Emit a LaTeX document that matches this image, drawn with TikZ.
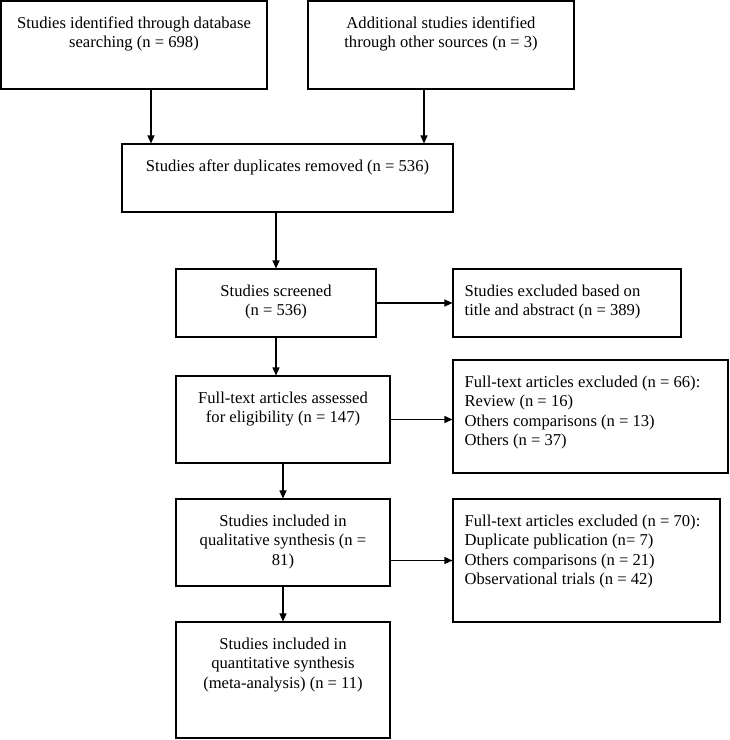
\documentclass[tikz,border=0pt]{standalone}
\usepackage{fontspec}
\setmainfont{Liberation Serif}
\usetikzlibrary{arrows.meta}
\begin{document}
\begin{tikzpicture}[x=1pt,y=-1pt,
  box/.style={draw=black, line width=1.1pt, inner sep=0pt, fill=white},
  ctext/.style={anchor=base, inner sep=0pt, font=\fontsize{16.6}{19.5}\selectfont},
  ltext/.style={anchor=base west, inner sep=0pt, font=\fontsize{16.6}{19.5}\selectfont},
  arr/.style={line width=1.1pt, -{Triangle[length=8pt,width=7pt]}}]
\useasboundingbox (0,0) rectangle (730,740);
% boxes
\node[box, minimum width=266pt, minimum height=88pt]  (b1)  at (134,45) {};
\node[box, minimum width=266pt, minimum height=88pt]  (b2)  at (441,45) {};
\node[box, minimum width=331pt, minimum height=68pt]  (b3)  at (287.5,178) {};
\node[box, minimum width=200pt, minimum height=68pt]  (b4)  at (276,303) {};
\node[box, minimum width=228pt, minimum height=68pt]  (b5)  at (567,303) {};
\node[box, minimum width=214pt, minimum height=87pt]  (b6)  at (283,419.5) {};
\node[box, minimum width=275pt, minimum height=113pt] (b7)  at (590.5,416.5) {};
\node[box, minimum width=214pt, minimum height=87pt]  (b8)  at (283,542.5) {};
\node[box, minimum width=267pt, minimum height=123pt] (b9)  at (586.5,560.5) {};
\node[box, minimum width=214pt, minimum height=116pt] (b10) at (283,680) {};
% texts
\node[ctext] (t1) at ([yshift=-28pt]b1.north) {\begin{tabular}[t]{@{}c@{}}Studies identified through database\\searching (n = 698)\end{tabular}};
\node[ctext] (t2) at ([yshift=-28pt]b2.north) {\begin{tabular}[t]{@{}c@{}}Additional studies identified\\through other sources (n = 3)\end{tabular}};
\node[ctext] (t3) at ([yshift=-28pt]b3.north) {\begin{tabular}[t]{@{}c@{}}Studies after duplicates removed (n = 536)\end{tabular}};
\node[ctext] (t4) at ([yshift=-28pt]b4.north) {\begin{tabular}[t]{@{}c@{}}Studies screened\\(n = 536)\end{tabular}};
\node[ltext] (t5) at ([xshift=12pt,yshift=-28pt]b5.north west) {\begin{tabular}[t]{@{}l@{}}Studies excluded based on\\title and abstract (n = 389)\end{tabular}};
\node[ctext] (t6) at ([yshift=-28pt]b6.north) {\begin{tabular}[t]{@{}c@{}}Full-text articles assessed\\for eligibility (n = 147)\end{tabular}};
\node[ltext] (t7) at ([xshift=12pt,yshift=-28pt]b7.north west) {\begin{tabular}[t]{@{}l@{}}Full-text articles excluded (n = 66):\\Review (n = 16)\\Others comparisons (n = 13)\\Others (n = 37)\end{tabular}};
\node[ctext] (t8) at ([yshift=-28pt]b8.north) {\begin{tabular}[t]{@{}c@{}}Studies included in\\qualitative synthesis (n =\\81)\end{tabular}};
\node[ltext] (t9) at ([xshift=12pt,yshift=-28pt]b9.north west) {\begin{tabular}[t]{@{}l@{}}Full-text articles excluded (n = 70):\\Duplicate publication (n= 7)\\Others comparisons (n = 21)\\Observational trials (n = 42)\end{tabular}};
\node[ctext] (t10) at ([yshift=-28pt]b10.north) {\begin{tabular}[t]{@{}c@{}}Studies included in\\quantitative synthesis\\(meta-analysis) (n = 11)\end{tabular}};
% connectors
\path ([xshift=17pt]b1.south) coordinate (a1);
\path ([xshift=-17pt]b2.south) coordinate (a2);
\draw[arr] (a1) -- (a1 |- b3.north);
\draw[arr] (a2) -- (a2 |- b3.north);
\draw[arr] (b4.north |- b3.south) -- (b4.north);
\draw[arr] (b4.east) -- (b5.west);
\draw[arr] (b4.south) -- (b4.south |- b6.north);
\draw[arr] (b6.east) -- (b6.east -| b7.west);
\draw[arr] (b6.south) -- (b8.north);
\draw[arr] (b9.west -| b8.east) -- (b9.west);
\draw[arr] (b8.south) -- (b10.north);
\end{tikzpicture}
\end{document}
